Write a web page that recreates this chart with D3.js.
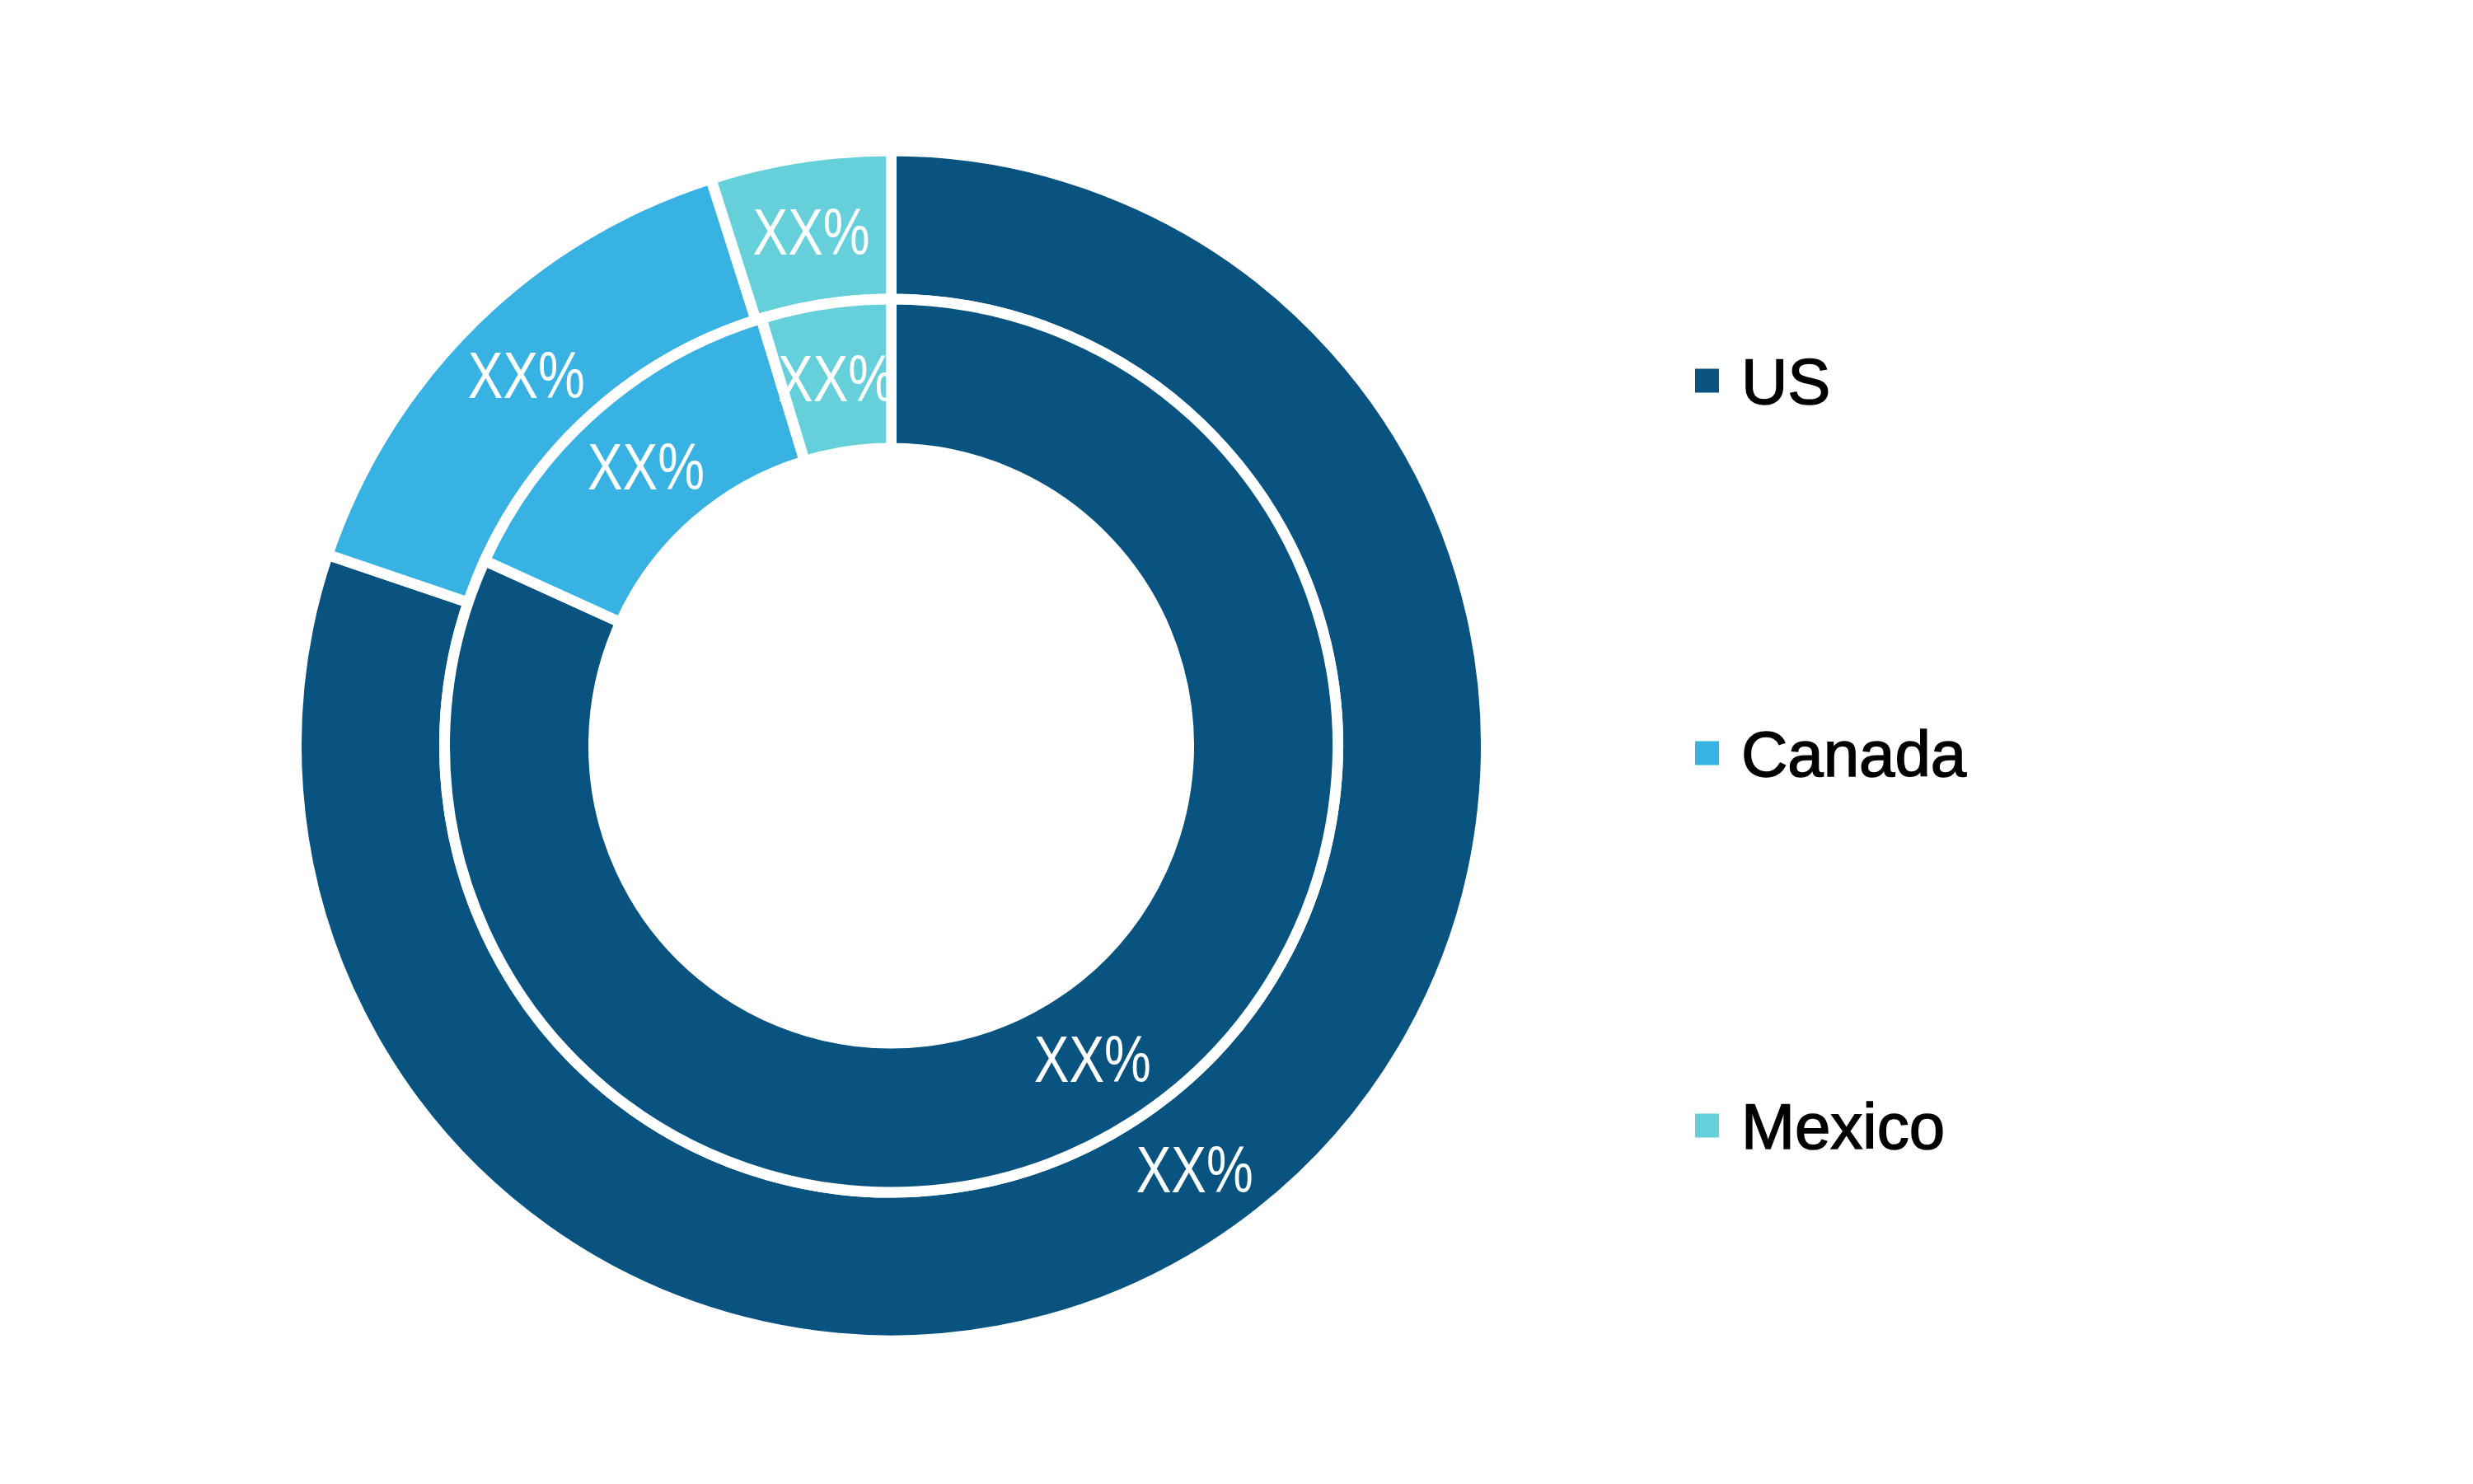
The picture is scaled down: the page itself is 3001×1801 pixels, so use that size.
<!DOCTYPE html>
<html>
<head>
<meta charset="utf-8">
<script src="https://cdn.jsdelivr.net/npm/d3@7"></script>
<style>
  html, body { margin: 0; padding: 0; background: #ffffff; }
  svg { display: block; }
</style>
</head>
<body>
<script>
// ---- data ----
const categories = ["US", "Canada", "Mexico"];
const outerValues = [80.2, 14.9, 4.9];   // outer ring shares (%)
const innerValues = [81.8, 13.5, 4.7];   // inner ring shares (%)
const sliceLabels = ["XX%", "XX%", "XX%"];
const colors = ["#08537f", "#37b2e3", "#65d0da"];

// ---- layout ----
const W = 3001, H = 1801;
const cx = 1081.5, cy = 905;
const rOuterOut = 722, rMid = 542, rInnerIn = 361;

const svg = d3.select("body").append("svg")
  .attr("width", W).attr("height", H)
  .attr("viewBox", `0 0 ${W} ${H}`);
svg.append("rect").attr("width", W).attr("height", H).attr("fill", "#fff");

const color = d3.scaleOrdinal().domain(categories).range(colors);
const pie = d3.pie().sort(null).value(d => d.v).startAngle(0).endAngle(2 * Math.PI);

const g = svg.append("g").attr("transform", `translate(${cx},${cy})`);

function ring(values, r0, r1, cls) {
  const data = pie(categories.map((c, i) => ({ c, v: values[i], label: sliceLabels[i] })));
  const arc = d3.arc().innerRadius(r0).outerRadius(r1);
  const rg = g.append("g").attr("class", cls);
  rg.selectAll("path").data(data).join("path")
    .attr("d", arc)
    .attr("fill", d => color(d.data.c))
    .attr("stroke", "#fff")
    .attr("stroke-width", 13)
    .attr("stroke-linejoin", "miter");
  rg.selectAll("text").data(data).join("text")
    .attr("x", d => arc.centroid(d)[0])
    .attr("y", d => arc.centroid(d)[1])
    .attr("dy", "0.36em")
    .attr("text-anchor", "middle")
    .attr("fill", "#fff")
    .attr("font-family", "'Liberation Sans', Arial, sans-serif")
    .attr("font-size", 80)
    .attr("textLength", 142)
    .attr("lengthAdjust", "spacingAndGlyphs")
    .text(d => d.data.label);
}
ring(outerValues, rMid, rOuterOut, "outer");
ring(innerValues, rInnerIn, rMid, "inner");

// ---- legend ----
const legendY = d3.scalePoint().domain(categories).range([462, 1366]);
const lg = svg.append("g").attr("class", "legend");
const items = lg.selectAll("g").data(categories).join("g")
  .attr("transform", d => `translate(2057,${legendY(d)})`);
items.append("rect")
  .attr("x", 0).attr("y", -14.5).attr("width", 29).attr("height", 29)
  .attr("fill", d => color(d));
items.append("text")
  .attr("x", 56).attr("y", 0).attr("dy", "0.36em")
  .attr("font-family", "'Liberation Sans', Arial, sans-serif")
  .attr("font-size", 78)
  .attr("fill", "#000")
  .attr("stroke", "#000")
  .attr("stroke-width", 1.5)
  .text(d => d);
</script>
</body>
</html>
